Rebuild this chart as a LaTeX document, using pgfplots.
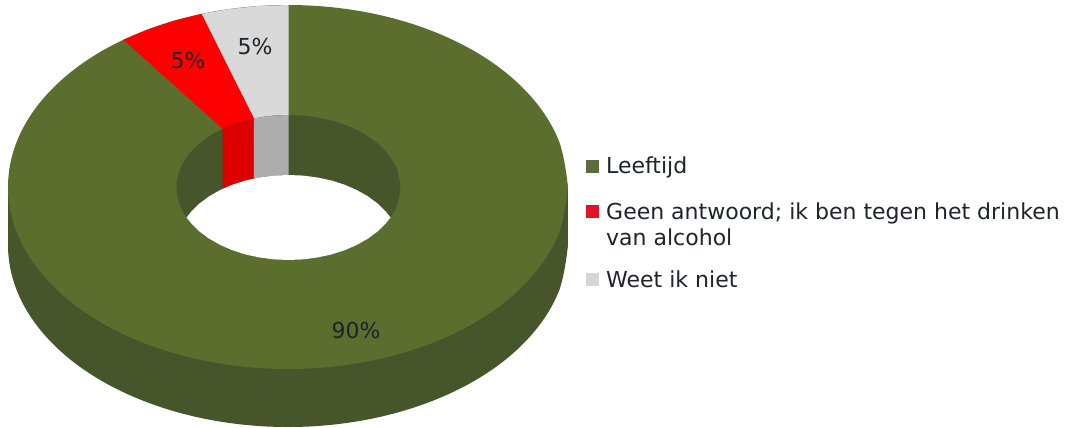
\documentclass[border=0pt]{standalone}
\usepackage{pgfplots}
\pgfplotsset{compat=1.18}
\usepackage{fontspec}
\setmainfont{DejaVu Sans}
\definecolor{gTop}{HTML}{5B6E2E}
\definecolor{gSide}{HTML}{46552A}
\definecolor{rTop}{HTML}{FF0000}
\definecolor{rSide}{HTML}{DC0000}
\definecolor{wTop}{HTML}{D9D9D9}
\definecolor{wSide}{HTML}{ADADAD}
\definecolor{txt}{HTML}{20222C}
\definecolor{gKey}{HTML}{5E6B3C}
\definecolor{rKey}{HTML}{E6102A}
\definecolor{wKey}{HTML}{D6D6D6}
\begin{document}
\begin{tikzpicture}
\begin{axis}[
  width=1071pt,height=428pt,scale only axis,
  xmin=0,xmax=1071,ymin=0,ymax=428,y dir=reverse,
  hide axis,clip=true,
]
% page extent
\addplot[draw=none,fill=white,forget plot] coordinates {(0,0)(1071,0)(1071,428)(0,428)};
% outer wall
\addplot[draw=none,fill=gSide] coordinates {(8,187)(568,187)(568,245)(8,245)};
\addplot[draw=none,fill=gSide,smooth,tension=0.61] coordinates {
(568,245)(558.5,292.1)(530.5,336)(486,373.7)(428,402.6)(360.5,420.8)(288,427)
(215.5,420.8)(148,402.6)(90,373.7)(45.5,336)(17.5,292.1)(8,245)
(17.5,197.9)(45.5,154)(90,116.3)(148,87.4)(215.5,69.2)(288,63)
(360.5,69.2)(428,87.4)(486,116.3)(530.5,154)(558.5,197.9)(568,245)};
% top face: Leeftijd
\addplot[draw=none,fill=gTop,smooth,tension=0.61] coordinates {
(568,187)(558.5,234.1)(530.5,278)(486,315.7)(428,344.6)(360.5,362.8)(288,369)
(215.5,362.8)(148,344.6)(90,315.7)(45.5,278)(17.5,234.1)(8,187)
(17.5,139.9)(45.5,96)(90,58.3)(148,29.4)(215.5,11.2)(288,5)
(360.5,11.2)(428,29.4)(486,58.3)(530.5,96)(558.5,139.9)(568,187)};
% top face: Weet ik niet
\addplot[draw=none,fill=wTop] coordinates {
(288.5,5)(258.7,6)(229.8,9)(201.5,13.9)(253.9,118.5)(288.5,115)};
% top face: Geen antwoord
\addplot[draw=none,fill=rTop] coordinates {
(201.5,13.9)(174.1,20.7)(148,29.4)(123.4,39.8)(222.7,128.8)(253.9,118.5)};
% inner wall
\addplot[draw=none,fill=gSide,smooth,tension=0.61] coordinates {
(400.5,187.5)(396.7,206.3)(385.5,223.8)(367.7,238.8)(344.5,250.3)(317.5,257.5)(288.5,260)
(259.5,257.5)(232.5,250.3)(209.3,238.8)(191.5,223.8)(180.3,206.3)(176.5,187.5)
(180.3,168.7)(191.5,151.2)(209.3,136.2)(232.5,124.7)(259.5,117.5)(288.5,115)
(317.5,117.5)(344.5,124.7)(367.7,136.2)(385.5,151.2)(396.7,168.7)(400.5,187.5)};
\addplot[draw=none,fill=rSide] coordinates {
(222.7,128.8)(232.5,124.7)(243,121.3)(253.9,118.5)(253.9,178.5)(243,181.3)(232.5,184.7)(222.7,188.8)};
\addplot[draw=none,fill=wSide] coordinates {
(253.9,118.5)(265.2,116.6)(276.8,115.4)(288.5,115)(288.5,175)(276.8,175.4)(265.2,176.6)(253.9,178.5)};
% hole
\addplot[draw=none,fill=white] coordinates {
(186.5,217.5)(191.5,223.75)(199.6,231.6)(209.3,238.8)(220.3,245)(232.5,250.3)(245.6,254.5)(259.5,257.5)(273.9,259.4)(288.5,260)
(303.1,259.4)(317.5,257.5)(331.4,254.5)(344.5,250.3)(356.7,245)(367.7,238.8)(377.4,231.6)(385.5,223.75)(390.5,217.5)
(385.5,211.25)(377.4,203.4)(367.7,196.2)(356.7,190)(344.5,184.7)(331.4,180.5)(317.5,177.5)(303.1,175.6)(288.5,175)
(273.9,175.6)(259.5,177.5)(245.6,180.5)(232.5,184.7)(220.3,190)(209.3,196.2)(199.6,203.4)(191.5,211.25)};
% legend keys
\addplot[only marks,mark=square*,mark size=6pt,color=gKey,mark options={fill=gKey,draw=gKey,line width=0pt}] coordinates {(592.5,166)};
\addplot[only marks,mark=square*,mark size=6pt,color=rKey,mark options={fill=rKey,draw=rKey,line width=0pt}] coordinates {(592.5,211.5)};
\addplot[only marks,mark=square*,mark size=6pt,color=wKey,mark options={fill=wKey,draw=wKey,line width=0pt}] coordinates {(592.5,279)};
% texts
\begin{scope}[every node/.style={font=\fontsize{22}{22}\selectfont,text=txt,inner sep=0pt}]
\node[anchor=base west] at (axis cs:606,173) {Leeftijd};
\node[anchor=base west] at (axis cs:606,219) {Geen antwoord; ik ben tegen het drinken};
\node[anchor=base west] at (axis cs:606,245) {van alcohol};
\node[anchor=base west] at (axis cs:606,287.5) {Weet ik niet};
\node[anchor=base] at (axis cs:255,55) {5\%};
\node[anchor=base] at (axis cs:188,69) {5\%};
\node[anchor=base] at (axis cs:356,338) {90\%};
\end{scope}
\end{axis}
\end{tikzpicture}
\end{document}
